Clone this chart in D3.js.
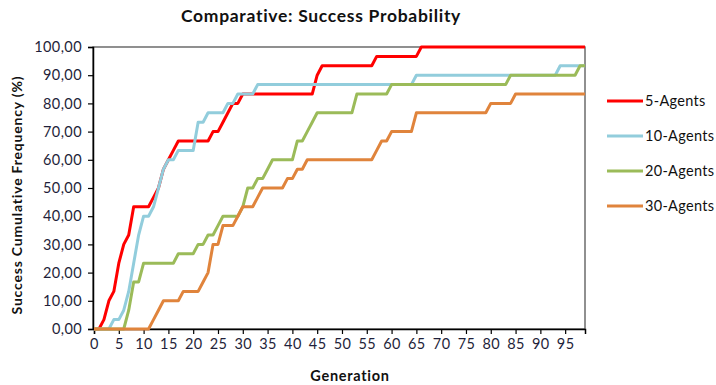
<!DOCTYPE html>
<html lang="en">
<head>
    <meta charset="UTF-8">
    <title>Comparative: Success Probability</title>
    <script src="https://cdn.jsdelivr.net/npm/d3@7/dist/d3.min.js"></script>
    <style>
        body { margin: 0; background: #fff; }
        text { font-family: Lato, "Liberation Sans", sans-serif; }
    </style>
</head>
<body>
    <div class="chart"></div>
<script>
    // success frequency (%) per generation, 30 runs each
    const agents5 = [
        0, 0, 3.33, 10, 13.33, 23.33, 30, 33.33, 43.33, 43.33,
        43.33, 43.33, 46.67, 50, 56.67, 60, 63.33, 66.67, 66.67, 66.67,
        66.67, 66.67, 66.67, 66.67, 70, 70, 73.33, 76.67, 80, 80,
        83.33, 83.33, 83.33, 83.33, 83.33, 83.33, 83.33, 83.33, 83.33, 83.33,
        83.33, 83.33, 83.33, 83.33, 83.33, 90, 93.33, 93.33, 93.33, 93.33,
        93.33, 93.33, 93.33, 93.33, 93.33, 93.33, 93.33, 96.67, 96.67, 96.67,
        96.67, 96.67, 96.67, 96.67, 96.67, 96.67, 100, 100, 100, 100,
        100, 100, 100, 100, 100, 100, 100, 100, 100, 100,
        100, 100, 100, 100, 100, 100, 100, 100, 100, 100,
        100, 100, 100, 100, 100, 100, 100, 100, 100, 100
    ]
    const agents10 = [
        0, 0, 0, 0, 3.33, 3.33, 6.67, 13.33, 23.33, 33.33,
        40, 40, 43.33, 50, 56.67, 60, 60, 63.33, 63.33, 63.33,
        63.33, 73.33, 73.33, 76.67, 76.67, 76.67, 76.67, 80, 80, 83.33,
        83.33, 83.33, 83.33, 86.67, 86.67, 86.67, 86.67, 86.67, 86.67, 86.67,
        86.67, 86.67, 86.67, 86.67, 86.67, 86.67, 86.67, 86.67, 86.67, 86.67,
        86.67, 86.67, 86.67, 86.67, 86.67, 86.67, 86.67, 86.67, 86.67, 86.67,
        86.67, 86.67, 86.67, 86.67, 86.67, 90, 90, 90, 90, 90,
        90, 90, 90, 90, 90, 90, 90, 90, 90, 90,
        90, 90, 90, 90, 90, 90, 90, 90, 90, 90,
        90, 90, 90, 90, 93.33, 93.33, 93.33, 93.33, 93.33, 93.33
    ]
    const agents20 = [
        0, 0, 0, 0, 0, 0, 0, 6.67, 16.67, 16.67,
        23.33, 23.33, 23.33, 23.33, 23.33, 23.33, 23.33, 26.67, 26.67, 26.67,
        26.67, 30, 30, 33.33, 33.33, 36.67, 40, 40, 40, 40,
        43.33, 50, 50, 53.33, 53.33, 56.67, 60, 60, 60, 60,
        60, 66.67, 66.67, 70, 73.33, 76.67, 76.67, 76.67, 76.67, 76.67,
        76.67, 76.67, 76.67, 83.33, 83.33, 83.33, 83.33, 83.33, 83.33, 83.33,
        86.67, 86.67, 86.67, 86.67, 86.67, 86.67, 86.67, 86.67, 86.67, 86.67,
        86.67, 86.67, 86.67, 86.67, 86.67, 86.67, 86.67, 86.67, 86.67, 86.67,
        86.67, 86.67, 86.67, 86.67, 90, 90, 90, 90, 90, 90,
        90, 90, 90, 90, 90, 90, 90, 90, 93.33, 93.33
    ]
    const agents30 = [
        0, 0, 0, 0, 0, 0, 0, 0, 0, 0,
        0, 0, 3.33, 6.67, 10, 10, 10, 10, 13.33, 13.33,
        13.33, 13.33, 16.67, 20, 30, 30, 36.67, 36.67, 36.67, 40,
        43.33, 43.33, 43.33, 46.67, 50, 50, 50, 50, 50, 53.33,
        53.33, 56.67, 56.67, 60, 60, 60, 60, 60, 60, 60,
        60, 60, 60, 60, 60, 60, 60, 63.33, 66.67, 66.67,
        70, 70, 70, 70, 70, 76.67, 76.67, 76.67, 76.67, 76.67,
        76.67, 76.67, 76.67, 76.67, 76.67, 76.67, 76.67, 76.67, 76.67, 76.67,
        80, 80, 80, 80, 80, 83.33, 83.33, 83.33, 83.33, 83.33,
        83.33, 83.33, 83.33, 83.33, 83.33, 83.33, 83.33, 83.33, 83.33, 83.33
    ]
    const seriesNames = ['5-Agents', '10-Agents', '20-Agents', '30-Agents']
    const seriesValues = [agents5, agents10, agents20, agents30]
    const colors = ['#ff0000', '#92cddc', '#9bbb59', '#e0843c']
    const xTicks = [0, 5, 10, 15, 20, 25, 30, 35, 40, 45, 50, 55, 60, 65, 70, 75, 80, 85, 90, 95]
    const yTicks = [0, 10, 20, 30, 40, 50, 60, 70, 80, 90, 100]

    const width = 716
    const height = 385
    const plot = { left: 93, right: 585, top: 47, bottom: 329 }

    const svg = d3.select('.chart')
        .append('svg')
        .attr('width', width)
        .attr('height', height)

    const x = d3.scaleLinear().domain([0, 99]).range([plot.left + 1, plot.right])
    const y = d3.scaleLinear().domain([0, 100]).range([plot.bottom, plot.top])
    const fmt = v => d3.format('.2f')(v).replace('.', ',')

    // plot border
    svg.append('rect')
        .attr('x', plot.left)
        .attr('y', plot.top)
        .attr('width', plot.right - plot.left)
        .attr('height', plot.bottom - plot.top)
        .attr('fill', 'none')
        .attr('stroke', '#555')
        .attr('stroke-width', 1.3)

    const yAxis = svg.append('g')
        .attr('transform', `translate(${plot.left}, 0)`)
        .call(d3.axisLeft(y).tickValues(yTicks).tickFormat(fmt).tickSize(5).tickPadding(6))
    const xAxis = svg.append('g')
        .attr('transform', `translate(0, ${plot.bottom})`)
        .call(d3.axisBottom(x).tickValues(xTicks).tickSize(5).tickPadding(5))

    ;[yAxis, xAxis].forEach(ax => {
        ax.select('.domain').attr('stroke', '#000').attr('stroke-width', 1.5)
        ax.selectAll('.tick line').attr('stroke', '#000').attr('stroke-width', 1.2)
        ax.selectAll('.tick text')
            .attr('fill', '#1f1f3a')
            .attr('font-size', '14.5px')
            .attr('letter-spacing', '0.4px')
            .style('font-family', 'Lato, sans-serif')
    })

    const line = d3.line()
        .x((d, i) => x(i))
        .y(d => y(d))

    svg.append('g')
        .selectAll('path')
        .data(seriesValues)
        .enter()
        .append('path')
        .attr('d', d => line(d))
        .attr('fill', 'none')
        .attr('stroke', (d, i) => colors[i])
        .attr('stroke-width', 3)
        .attr('stroke-linejoin', 'round')

    // title and axis titles
    svg.append('text')
        .attr('x', 321)
        .attr('y', 22)
        .attr('text-anchor', 'middle')
        .attr('font-size', '17.5px')
        .attr('font-weight', 'bold')
        .attr('letter-spacing', '0.7px')
        .attr('fill', '#111')
        .text('Comparative: Success Probability')

    svg.append('text')
        .attr('x', 350)
        .attr('y', 381)
        .attr('text-anchor', 'middle')
        .attr('font-size', '14.5px')
        .attr('font-weight', 'bold')
        .attr('letter-spacing', '0.7px')
        .attr('fill', '#111')
        .text('Generation')

    svg.append('text')
        .attr('transform', `translate(22, 195) rotate(-90)`)
        .attr('text-anchor', 'middle')
        .attr('font-size', '14px')
        .attr('font-weight', 'bold')
        .attr('letter-spacing', '0.8px')
        .attr('fill', '#111')
        .text('Success Cumulative Frequency (%)')

    // legend
    const legend = svg.append('g')
        .selectAll('g')
        .data(seriesNames)
        .enter()
        .append('g')
        .attr('transform', (d, i) => `translate(607, ${101 + i * 35})`)
    legend.append('line')
        .attr('x1', 0)
        .attr('x2', 36)
        .attr('stroke', (d, i) => colors[i])
        .attr('stroke-width', 3)
    legend.append('text')
        .attr('x', 38)
        .attr('dy', '0.35em')
        .attr('font-size', '14.5px')
        .attr('letter-spacing', '0.3px')
        .attr('fill', '#111')
        .text(d => d)
</script>
</body>
</html>
